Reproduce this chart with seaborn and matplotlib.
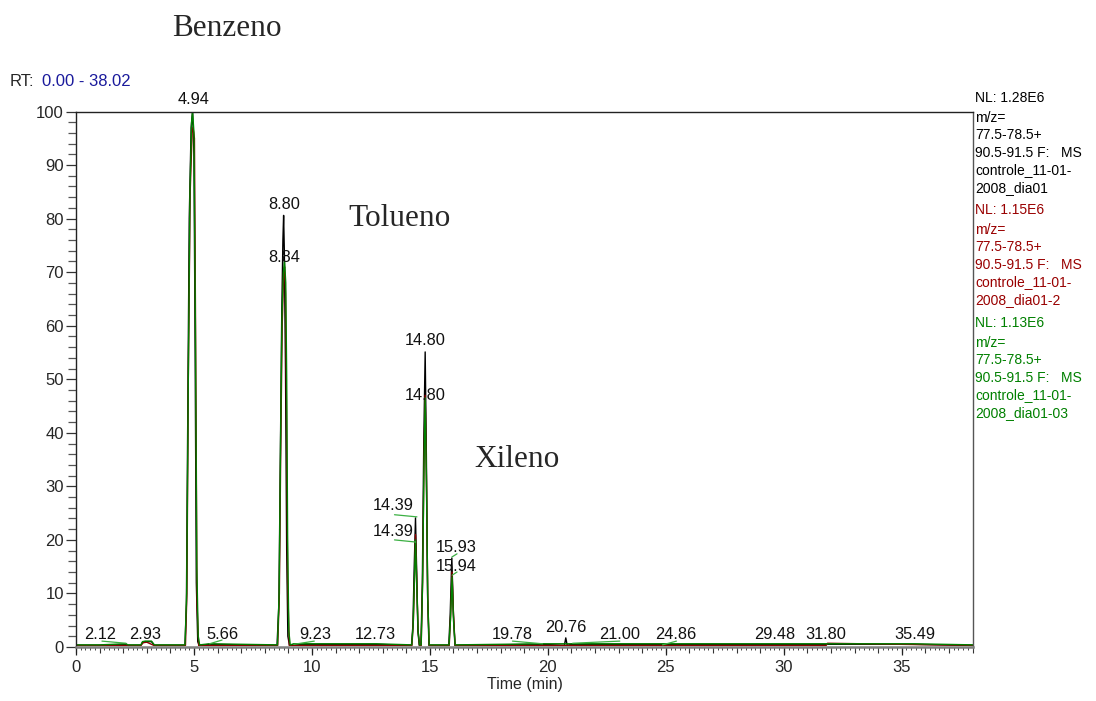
import numpy as np
import pandas as pd
import matplotlib
matplotlib.use("Agg")
import matplotlib.pyplot as plt
import seaborn as sns

# ---- chromatogram traces: (retention time [min], relative abundance [%]) vertices ----
black_t = [0.0, 1.0, 2.12, 2.2, 2.75, 2.82, 2.93, 3.2, 3.32, 4.62, 4.68, 4.74, 4.80, 4.88, 4.94,
           5.00, 5.05, 5.10, 5.16, 5.22, 5.66, 8.52, 8.60, 8.66, 8.72, 8.77, 8.80, 8.83, 8.88,
           8.93, 8.98, 9.05, 9.23, 12.73, 14.22, 14.28, 14.33, 14.39, 14.44, 14.49, 14.55,
           14.62, 14.68, 14.74, 14.80, 14.85, 14.90, 14.96, 15.80, 15.86, 15.93, 15.99, 16.06,
           19.78, 20.70, 20.76, 20.82, 21.00, 24.86, 29.48, 31.80, 35.49, 38.02]
black_y = [0.3, 0.3, 0.5, 0.3, 0.3, 0.9, 1.0, 1.0, 0.3, 0.3, 8.0, 45.0, 80.0, 97.0, 100.0,
           92.0, 55.0, 12.0, 1.0, 0.3, 0.5, 0.3, 8.0, 35.0, 62.0, 76.0, 80.6, 74.0, 52.0,
           18.0, 2.0, 0.3, 0.5, 0.5, 0.3, 4.0, 14.0, 24.1, 14.0, 3.0, 0.3,
           0.3, 12.0, 38.0, 55.1, 36.0, 10.0, 0.3, 0.3, 6.0, 16.6, 7.0, 0.3,
           0.5, 0.3, 1.7, 0.3, 0.5, 0.5, 0.5, 0.5, 0.5, 0.3]

red_t = [0.0, 2.75, 2.85, 3.0, 3.3, 4.64, 4.70, 4.76, 4.84, 4.92, 4.96, 5.02, 5.08, 5.13, 5.20,
         8.55, 8.62, 8.68, 8.74, 8.80, 8.84, 8.88, 8.92, 8.97, 9.04, 14.24, 14.30, 14.35, 14.39,
         14.44, 14.50, 14.56, 14.63, 14.69, 14.75, 14.80, 14.85, 14.91, 14.97, 15.82, 15.88,
         15.94, 16.00, 16.07, 31.80, 31.85, 38.02]
red_y = [0.3, 0.3, 0.8, 0.9, 0.3, 0.3, 10.0, 50.0, 85.0, 96.0, 97.0, 95.0, 50.0, 8.0, 0.3,
         0.3, 10.0, 38.0, 60.0, 70.0, 71.0, 66.0, 45.0, 12.0, 0.3, 0.3, 5.0, 13.0, 21.0,
         13.0, 3.0, 0.3, 0.3, 12.0, 35.0, 47.0, 33.0, 9.0, 0.3, 0.3, 6.0,
         14.0, 6.0, 0.3, 0.3, 0.7, 0.3]

green_t = [0.0, 1.0, 2.12, 2.2, 2.75, 2.82, 2.93, 3.2, 3.32, 4.62, 4.69, 4.76, 4.83, 4.90, 4.94,
           5.00, 5.06, 5.12, 5.18, 5.24, 5.66, 8.54, 8.61, 8.67, 8.73, 8.79, 8.84, 8.89, 8.93,
           8.97, 9.02, 9.08, 9.23, 12.73, 14.23, 14.29, 14.34, 14.39, 14.44, 14.50, 14.56,
           14.63, 14.69, 14.75, 14.80, 14.85, 14.91, 14.97, 15.81, 15.87, 15.94, 16.00, 16.07,
           19.78, 21.00, 24.86, 29.48, 35.49, 38.02]
green_y = [0.4, 0.4, 0.6, 0.4, 0.4, 1.0, 1.1, 1.1, 0.4, 0.4, 10.0, 50.0, 85.0, 98.0, 100.0,
           96.0, 60.0, 15.0, 2.0, 0.4, 0.6, 0.4, 10.0, 38.0, 62.0, 70.0, 72.0, 68.0, 50.0,
           20.0, 3.0, 0.4, 0.6, 0.6, 0.4, 4.0, 12.0, 20.0, 12.0, 3.0, 0.4,
           0.4, 12.0, 34.0, 46.5, 32.0, 9.0, 0.4, 0.4, 5.0, 13.1, 5.0, 0.4,
           0.6, 0.6, 0.6, 0.6, 0.6, 0.4]

trace_names = ["controle_11-01-2008_dia01", "controle_11-01-2008_dia01-2",
               "controle_11-01-2008_dia01-03"]
trace_colors = ["#000000", "#8b0000", "#008000"]
info_colors = ["#000000", "#990000", "#008000"]

# labelled peak retention times
label_rts = [4.94, 8.80, 8.84, 14.80, 14.80, 14.39, 14.39, 15.93, 15.94,
             2.12, 2.93, 5.66, 9.23, 12.73, 19.78, 20.76, 21.00, 24.86, 29.48, 31.80, 35.49]

compound_names = ["Benzeno", "Tolueno", "Xileno"]
nl_values = ["1.28E6", "1.15E6", "1.13E6"]
mz_lines = ["m/z=", "77.5-78.5+", "90.5-91.5 F:   MS"]
file_lines = [["controle_11-01-", "2008_dia01"],
              ["controle_11-01-", "2008_dia01-2"],
              ["controle_11-01-", "2008_dia01-03"]]
rt_range = (0.00, 38.02)

# ---- build the long-form table ----
frames = []
for name, t, y in zip(trace_names, [black_t, red_t, green_t], [black_y, red_y, green_y]):
    frames.append(pd.DataFrame({"Time (min)": t, "Abundance": y, "trace": name}))
df = pd.concat(frames, ignore_index=True)

sns.set_style("white")
plt.rcParams["font.family"] = ["Liberation Sans", "DejaVu Sans"]

W, H = 1096, 701
fig = plt.figure(figsize=(W / 100, H / 100), dpi=100)
x0, x1, yb, yt = 76, 973, 647, 111.5
ax = fig.add_axes([x0 / W, 1 - yb / H, (x1 - x0) / W, (yb - yt) / H])

sns.lineplot(data=df, x="Time (min)", y="Abundance", hue="trace",
             palette=dict(zip(trace_names, trace_colors)), estimator=None,
             sort=False, linewidth=1.0, legend=False, ax=ax)

ax.set_xlim(*rt_range)
ax.set_ylim(0, 100)
ax.set_ylabel("")
ax.set_xlabel("Time (min)", fontsize=11.5, labelpad=2)

# ticks
ax.set_xticks(np.arange(0, 36, 5))
ax.set_xticks(np.arange(0, 38.1, 0.2), minor=True)
ax.set_yticks(np.arange(0, 101, 10))
ax.set_yticks(np.arange(0, 101, 2), minor=True)
ax.tick_params(axis="both", which="both", bottom=True, left=True, top=False, right=False,
               direction="out")
ax.tick_params(axis="x", which="major", length=6, width=0.9, color="#222222",
               labelsize=12, pad=3)
ax.tick_params(axis="x", which="minor", length=2.3, width=0.7, color="#444444")
ax.tick_params(axis="y", which="major", length=7.2, width=0.9, color="#333333",
               labelsize=12, pad=1.5)
ax.tick_params(axis="y", which="minor", length=5.6, width=0.9, color="#555555")
# one-minute ticks
sec = ax.secondary_xaxis("bottom")
sec.set_xticks(np.arange(0, 38.1, 1))
sec.tick_params(bottom=True, direction="out", length=4.0, width=0.8, color="#333333",
                labelbottom=False)
sec.spines["bottom"].set_visible(False)

for side in ["left", "top"]:
    ax.spines[side].set_color("#222222")
    ax.spines[side].set_linewidth(1.0)
ax.spines["right"].set_color("#555555")
ax.spines["right"].set_linewidth(1.0)
ax.spines["bottom"].set_color("#808080")
ax.spines["bottom"].set_linewidth(1.8)

# ---- peak labels (x, y centre in data units) and leader lines ----
label_layout = [
    (5.00, 102.2, None), (8.81, 82.6, None), (8.81, 72.7, None),
    (14.79, 57.2, None), (14.79, 46.9, None),
    (13.43, 26.4, ((13.50, 24.7), (14.45, 24.3))),
    (13.43, 21.5, ((13.50, 20.0), (14.40, 19.6))),
    (16.10, 18.5, ((15.93, 16.8), (16.15, 17.4))),
    (16.10, 15.0, ((15.94, 13.4), (16.15, 14.0))),
    (1.02, 2.3, ((1.10, 1.1), (2.12, 0.7))),
    (2.92, 2.3, None),
    (6.19, 2.3, ((5.66, 0.6), (6.19, 1.3))),
    (10.13, 2.3, ((9.23, 0.5), (10.10, 1.1))),
    (12.67, 2.3, None),
    (18.47, 2.3, ((18.50, 1.1), (19.78, 0.6))),
    (20.76, 3.7, None),
    (23.05, 2.3, ((21.05, 0.7), (23.05, 1.1))),
    (25.42, 2.3, ((24.86, 0.4), (25.45, 1.1))),
    (29.62, 2.3, None), (31.78, 2.3, None), (35.55, 2.3, None),
]
for rt, (lx, ly, leader) in zip(label_rts, label_layout):
    ax.text(lx, ly, f"{rt:.2f}", ha="center", va="center", fontsize=11.8,
            color="#111111", clip_on=False, zorder=5)
    if leader is not None:
        (ax_, ay_), (bx_, by_) = leader
        ax.plot([ax_, bx_], [ay_, by_], color="#3cb043", linewidth=0.9, zorder=4)

# compound names
serif = ["Liberation Serif", "DejaVu Serif"]
fig.text(227 / W, 1 - 36 / H, compound_names[0], family=serif, fontsize=22.5,
         ha="center", va="baseline")
ax.text(13.7, 80.0, compound_names[1], family=serif, fontsize=22.5, ha="center", va="center")
ax.text(18.7, 35.0, compound_names[2], family=serif, fontsize=22.5, ha="center", va="center")

# retention-time range header
fig.text(10 / W, 1 - 82 / H, "RT:", fontsize=12, ha="left", va="center")
fig.text(42 / W, 1 - 82 / H, f"{rt_range[0]:.2f} - {rt_range[1]:.2f}", fontsize=12,
         ha="left", va="center", color="#1a1a9c")

# right-hand scan info blocks
block_tops = [98, 210, 323]
for top, nl, files, col in zip(block_tops, nl_values, file_lines, info_colors):
    fig.text(975 / W, 1 - top / H, f"NL: {nl}", fontsize=10, ha="left", va="center", color=col)
    lines = mz_lines + files
    for i, s in enumerate(lines):
        fig.text(975 / W, 1 - (top + 20 + 17.4 * i) / H, s, fontsize=10, ha="left",
                 va="center", color=col)

fig.savefig("out.png", dpi=100)
